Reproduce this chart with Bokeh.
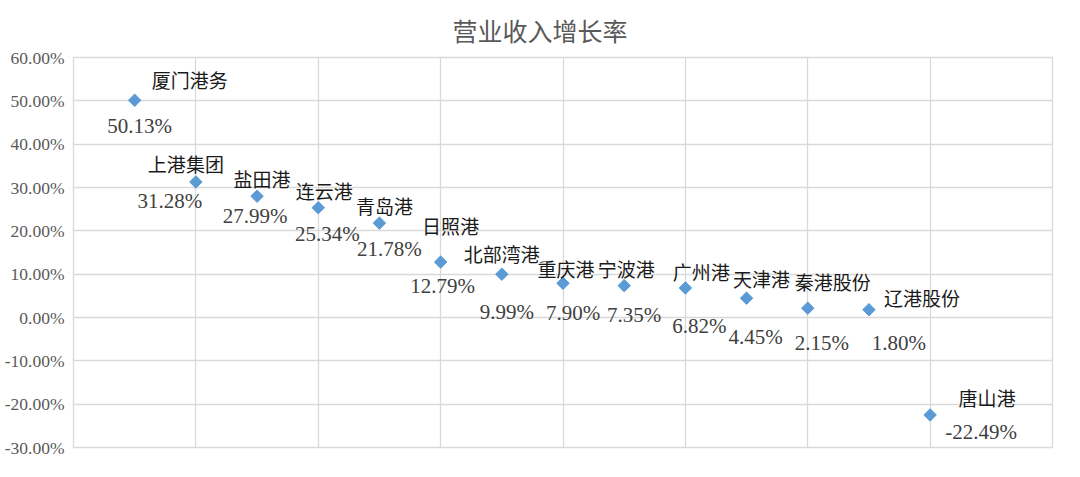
import numpy as np
from bokeh.plotting import figure
from bokeh.models import ColumnDataSource, FixedTicker
from bokeh.core.properties import value
from bokeh.embed import file_html
from bokeh.resources import INLINE

# ---- data ----
names = ["厦门港务", "上港集团", "盐田港", "连云港", "青岛港", "日照港", "北部湾港",
         "重庆港", "宁波港", "广州港", "天津港", "秦港股份", "辽港股份", "唐山港"]
growth = [50.13, 31.28, 27.99, 25.34, 21.78, 12.79, 9.99,
          7.90, 7.35, 6.82, 4.45, 2.15, 1.80, -22.49]
order = list(range(1, len(names) + 1))
y_ticks = [-30, -20, -10, 0, 10, 20, 30, 40, 50, 60]
y_tick_labels = ["-30.00%", "-20.00%", "-10.00%", "0.00%", "10.00%", "20.00%",
                 "30.00%", "40.00%", "50.00%", "60.00%"]

# ---- label placement (pixel offsets, manual like the original) ----
name_dx = [55, -10, 5, 6, 5, 10, 0, 3, 2, 16, 15, 25, 53, 57]
name_dy = [-21, -18, -18, -17, -18, -37, -21, -15, -17, -16, -20, -27, -12, -17]
val_dx = [5, -26, -2, 9, 10, 2, 5, 10, 10, 14, 9, 14, 30, 51]
val_dy = [26, 19, 20, 26, 26, 24, 38, 30, 29, 38, 39, 35, 33, 17]

src = ColumnDataSource(dict(
    x=order, y=growth, name=names,
    vlab=[f"{v:.2f}%" for v in growth],
    ndx=name_dx, ndy=name_dy, vdx=val_dx, vdy=val_dy,
))

p = figure(width=1072, height=469, x_range=(0, 16), y_range=(-30, 60),
           output_backend="svg", toolbar_location=None,
           title="营业收入增长率",
           min_border_left=73, min_border_right=20,
           min_border_top=56, min_border_bottom=22)

p.title.align = "left"
p.title.text_font = "Noto Sans CJK SC"
p.title.text_font_size = "25px"
p.title.text_font_style = "normal"
p.title.text_color = "#595959"
p.title.standoff = 19
p.title.offset = 379

p.xaxis.visible = False
p.yaxis.ticker = FixedTicker(ticks=y_ticks)
p.yaxis.major_label_overrides = {t: l for t, l in zip(y_ticks, y_tick_labels)}
p.yaxis.axis_line_color = None
p.yaxis.major_tick_line_color = None
p.yaxis.minor_tick_line_color = None
p.yaxis.major_tick_out = 0
p.yaxis.major_tick_in = 0
p.yaxis.minor_tick_out = 0
p.yaxis.minor_tick_in = 0
p.yaxis.major_label_text_font = "Liberation Serif"
p.yaxis.major_label_text_font_size = "17.5px"
p.yaxis.major_label_text_color = "#595959"
p.yaxis.major_label_standoff = 9

p.xgrid.ticker = FixedTicker(ticks=list(range(0, 17, 2)))
p.ygrid.ticker = FixedTicker(ticks=y_ticks)
p.xgrid.grid_line_color = "#d9d9d9"
p.ygrid.grid_line_color = "#d9d9d9"
p.xgrid.grid_line_width = 1.3
p.ygrid.grid_line_width = 1.3
p.outline_line_color = "#d9d9d9"
p.outline_line_width = 1.3

p.scatter("x", "y", source=src, marker="square", size=8.8, angle=np.pi / 4,
          fill_color="#5B9BD5", line_color="#5B9BD5")

p.text("x", "y", text="name", source=src, x_offset="ndx", y_offset="ndy",
       text_align="center", text_baseline="middle",
       text_font=value("Noto Sans CJK SC"), text_font_size="19px",
       text_color="#1a1a1a")
p.text("x", "y", text="vlab", source=src, x_offset="vdx", y_offset="vdy",
       text_align="center", text_baseline="middle",
       text_font=value("Liberation Serif"), text_font_size="21px",
       text_color="#404040")

open("out.html", "w").write(file_html(p, INLINE))
